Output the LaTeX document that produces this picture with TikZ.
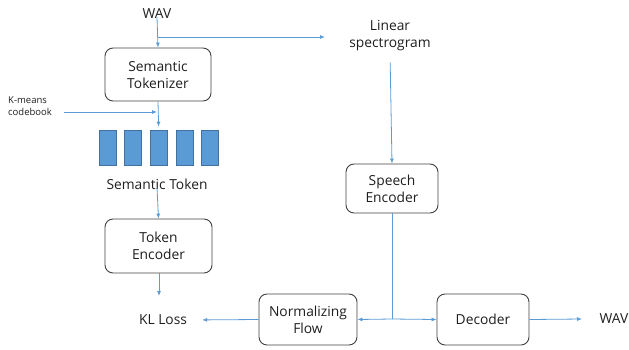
\documentclass[tikz,border=0pt]{standalone}
\usepackage{fontspec}
\setmainfont{Open Sans}
\usepackage{tikz}
\usetikzlibrary{calc}
\usetikzlibrary{arrows.meta}

\definecolor{lineblue}{RGB}{91,155,213}
\definecolor{tokenedge}{RGB}{65,113,156}
\definecolor{boxedge}{RGB}{64,64,64}
\definecolor{textgray}{RGB}{30,30,30}

\tikzset{
    block/.style={draw=boxedge, line width=0.9pt, rounded corners=8pt, align=center,
        font=\fontsize{13.8}{17}\selectfont, text=textgray, inner sep=2pt},
    label/.style={align=center, font=\fontsize{13.8}{17}\selectfont, text=textgray, inner sep=1pt},
    flow/.style={lineblue, line width=0.8pt, -{Latex[length=5pt,width=4pt]}},
    token/.style={draw=tokenedge, fill=lineblue, line width=0.6pt,
        minimum width=17pt, minimum height=35pt, inner sep=0pt}
}

\begin{document}
\begin{tikzpicture}[x=1pt,y=-1pt]
                \useasboundingbox (0,0) rectangle (629,349);

                \node[label] (wavin) at (157,14) {WAV};
                \node[block, minimum width=106pt, minimum height=53pt] (tokenizer) at (158,74.5) {Semantic\\Tokenizer};
                \node[label, align=left, anchor=west, font=\fontsize{9.5}{12}\selectfont] (kmeans) at (7,106) {K-means\\codebook};

                \foreach \i in {1,...,5}
                    \node[token] (tok\i) at ({107.5+25.6*(\i-1)},147.5) {};

                \node[label] (semtok) at (157,184) {Semantic Token};
                \node[block, minimum width=107pt, minimum height=54pt] (tokenenc) at (158.5,246) {Token\\Encoder};
                \node[label] (kl) at (163,320) {KL Loss};

                \node[label] (linear) at (390,36) {Linear\\spectrogram};
                \node[block, minimum width=92pt, minimum height=49pt] (speechenc) at (392,188.5) {Speech\\Encoder};
                \node[block, minimum width=98pt, minimum height=51pt] (nflow) at (308,319.5) {Normalizing\\Flow};
                \node[block, minimum width=92pt, minimum height=51pt] (decoder) at (483,319.5) {Decoder};
                \node[label] (wavout) at (614,319) {WAV};

                \coordinate (branch) at (158,37);
                \coordinate (specin) at (325,37);
                \coordinate (kmin) at (157,112);
                \coordinate (klin) at (159,296);
                \coordinate (join) at (392,319);
                \coordinate (wavend) at (582,319);

                \draw[flow] (wavin.south) ++(0,-3) -- (tokenizer.north);
                \draw[flow] (branch) -- (specin);
                \draw[flow] (kmeans.east |- kmin) ++(11,0) -- (kmin);
                \draw[flow, shorten >=3pt] (tokenizer.south) -- (tok3.north);
                \draw[flow] (semtok.south) ++(0,-3) -- (tokenenc.north);
                \draw[flow] (tokenenc.south -| klin) -- (klin);
                \draw[flow, shorten >=14pt] (nflow.west) -- (kl.east);

                \draw[flow, shorten <=10pt] (linear.south) -- (speechenc.north);
                \draw[lineblue, line width=0.8pt] (speechenc.south) -- (join);
                \draw[flow] (join) -- (nflow.east);
                \draw[flow] (join) -- (decoder.west);
                \draw[flow] (decoder.east) -- (wavend);
            \end{tikzpicture}
\end{document}
